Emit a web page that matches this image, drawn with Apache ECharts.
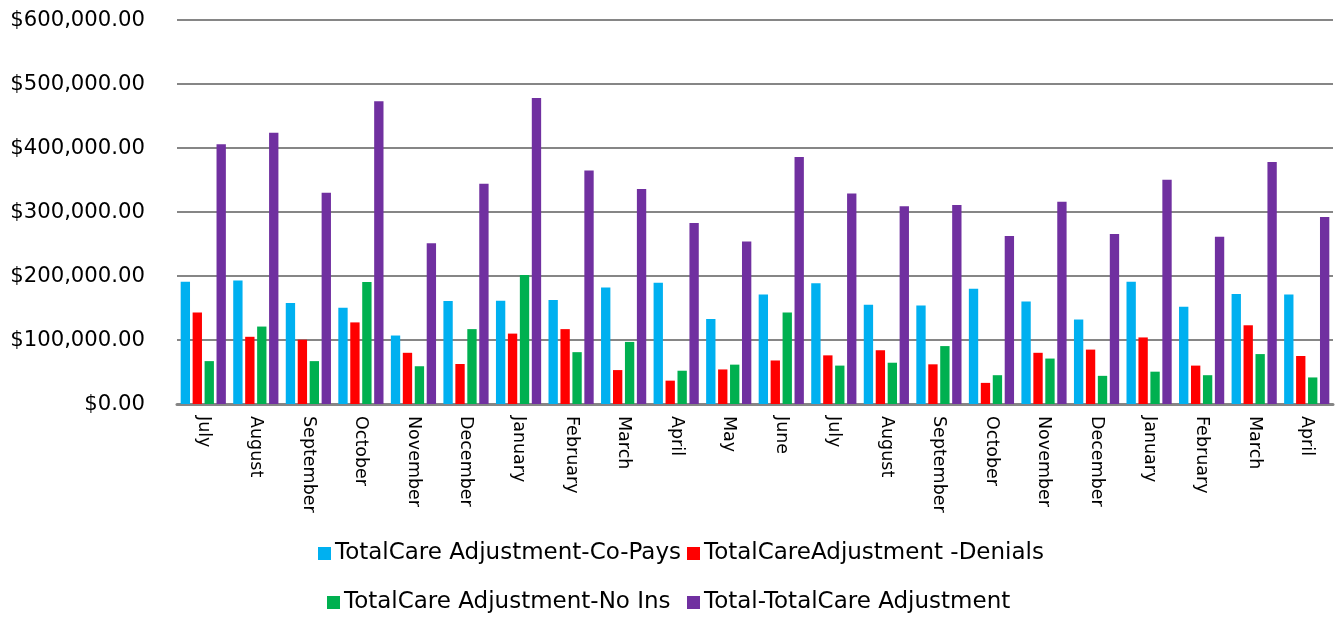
<!DOCTYPE html>
<html>
<head>
<meta charset="utf-8">
<script src="https://cdn.jsdelivr.net/npm/echarts@6/dist/echarts.min.js"></script>
<style>html,body{margin:0;padding:0;background:#fff}#c{width:1341px;height:618px}</style>
</head>
<body>
<div id="c"></div>
<script>
const categories = ["July","August","September","October","November","December","January","February","March","April","May","June","July","August","September","October","November","December","January","February","March","April"];
const coPays  = [191000,193000,158000,150500,107000,161000,161500,162500,182000,189500,133000,171000,188500,155000,154000,180000,160000,132000,191000,152000,172000,171000];
const denials = [143000,105000,100500,127500,80000,62500,110000,117000,53000,36500,54000,68000,76000,84000,62000,33000,80000,85000,104000,60000,123000,75000];
const noIns   = [67000,121000,67000,190500,59000,117000,201500,81000,97000,52000,61500,143000,60000,64500,90500,45000,71000,44000,50500,45000,78000,41500];
const total   = [406000,424000,330000,473000,251000,344000,478000,365000,336000,283000,254000,386000,329000,309000,311000,262500,316000,265500,350500,261500,378000,292000];
const seriesNames = ["TotalCare Adjustment-Co-Pays","TotalCareAdjustment -Denials","TotalCare Adjustment-No Ins","Total-TotalCare Adjustment"];
const yTicks = [0,100000,200000,300000,400000,500000,600000];

const colors = ["#00B0F0","#FF0000","#00B050","#7030A0"];
const font = "DejaVu Sans";
const chart = echarts.init(document.getElementById('c'), null, {renderer:'canvas'});
const fmt = v => '$' + v.toLocaleString('en-US',{minimumFractionDigits:2,maximumFractionDigits:2});
const legendPos = [[318,542],[687,542],[327,591],[687,591]];
chart.setOption({
  animation:false,
  color: colors,
  grid:{left:177,right:8,top:20,bottom:214,containLabel:false},
  legend: seriesNames.map((n,i)=>({
    data:[n], left:legendPos[i][0], top:legendPos[i][1], padding:0,
    itemWidth:13, itemHeight:13, icon:'rect', selectedMode:false,
    textStyle:{fontFamily:font,fontSize:23,color:'#000',padding:[0,0,0,-1]}
  })),
  xAxis:{
    type:'category', data:categories,
    axisLine:{lineStyle:{color:'#868686',width:3}},
    axisTick:{show:false},
    axisLabel:{rotate:-90,interval:0,margin:12,fontFamily:font,fontSize:17.5,color:'#000',padding:[10,0,0,0]}
  },
  yAxis:{
    type:'value', min:yTicks[0], max:yTicks[yTicks.length-1], interval:100000,
    axisLine:{show:false}, axisTick:{show:false},
    splitLine:{lineStyle:{color:'#868686',width:2}},
    axisLabel:{margin:32,fontFamily:font,fontSize:21.2,color:'#000',formatter:fmt}
  },
  series:[coPays,denials,noIns,total].map((d,i)=>({
    name:seriesNames[i], type:'bar', data:d,
    barCategoryGap:'14%', barGap:'28%',
    itemStyle:{color:colors[i]}
  }))
});
</script>
</body>
</html>
